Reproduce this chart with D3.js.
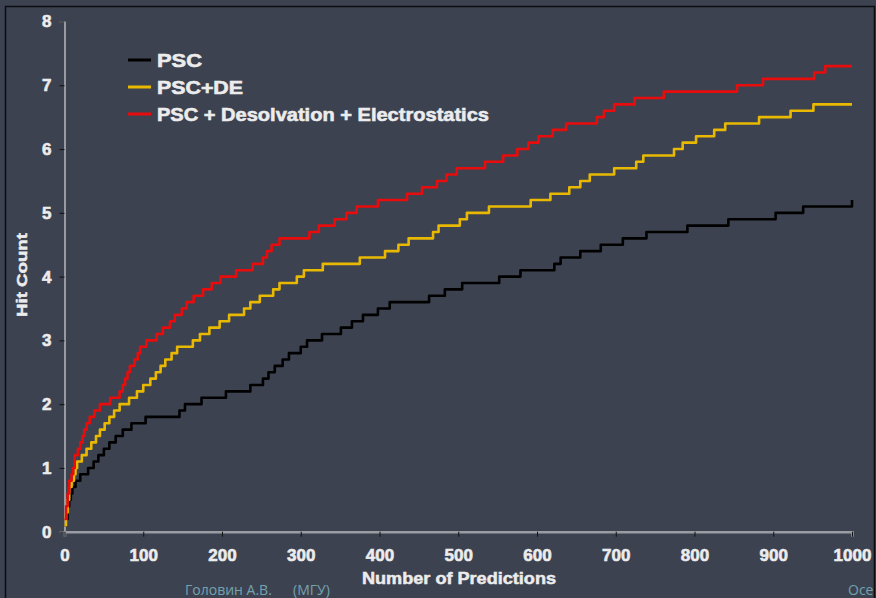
<!DOCTYPE html>
<html lang="en">
<head>
<meta charset="UTF-8">
<script src="https://d3js.org/d3.v7.min.js"></script>
<title>Hit Count</title>
<style>
  html, body { margin: 0; padding: 0; background: #3d4251; }
  svg { display: block; }
</style>
</head>
<body>
<div id="chart"></div>
<script>
// step data: x where the hit count changes, and the new value
var pscX  = [0, 2, 4, 6, 8, 10, 14, 20, 30, 37, 43, 50, 57, 65, 74, 85, 103, 146, 153, 174, 205, 236, 252, 259, 267, 277, 285, 300, 308, 327, 351, 365, 379, 398, 413, 463, 483, 505, 552, 579, 622, 630, 655, 681, 709, 739, 791, 843, 903, 938, 1000];
var pscY  = [0.1, 0.2, 0.4, 0.5, 0.6, 0.7, 0.8, 0.9, 1.0, 1.1, 1.2, 1.3, 1.4, 1.5, 1.6, 1.7, 1.8, 1.9, 2.0, 2.1, 2.2, 2.3, 2.4, 2.5, 2.6, 2.7, 2.8, 2.9, 3.0, 3.1, 3.2, 3.3, 3.4, 3.5, 3.6, 3.7, 3.8, 3.9, 4.0, 4.1, 4.2, 4.3, 4.4, 4.5, 4.6, 4.7, 4.8, 4.9, 5.0, 5.1, 5.2];

var deX   = [0, 2, 4, 6, 9, 12, 14, 16, 22, 28, 34, 40, 45, 51, 57, 63, 70, 82, 92, 100, 109, 116, 122, 128, 136, 143, 163, 172, 184, 197, 209, 228, 236, 248, 265, 273, 295, 304, 328, 375, 407, 424, 437, 468, 475, 502, 511, 539, 592, 617, 641, 655, 667, 698, 726, 735, 774, 785, 802, 825, 839, 882, 922, 951, 1000];
var deY   = [0.1, 0.3, 0.5, 0.7, 0.8, 0.9, 1.0, 1.1, 1.2, 1.3, 1.4, 1.5, 1.6, 1.7, 1.8, 1.9, 2.0, 2.1, 2.2, 2.3, 2.4, 2.5, 2.6, 2.7, 2.8, 2.9, 3.0, 3.1, 3.2, 3.3, 3.4, 3.5, 3.6, 3.7, 3.8, 3.9, 4.0, 4.1, 4.2, 4.3, 4.4, 4.5, 4.6, 4.7, 4.8, 4.9, 5.0, 5.1, 5.2, 5.3, 5.4, 5.5, 5.6, 5.7, 5.8, 5.9, 6.0, 6.1, 6.2, 6.3, 6.4, 6.5, 6.6, 6.7, 6.7];

var desX  = [0, 2, 4, 6, 9, 11, 13, 17, 20, 23, 25, 28, 32, 38, 45, 58, 70, 74, 77, 80, 83, 89, 93, 96, 104, 117, 125, 134, 140, 149, 155, 164, 176, 187, 198, 218, 239, 252, 257, 263, 273, 311, 323, 343, 358, 371, 398, 435, 454, 473, 485, 498, 534, 557, 575, 589, 602, 620, 637, 676, 685, 698, 724, 761, 854, 887, 952, 966, 1000];
var desY  = [0.2, 0.4, 0.6, 0.8, 0.9, 1.0, 1.2, 1.3, 1.4, 1.5, 1.6, 1.7, 1.8, 1.9, 2.0, 2.1, 2.2, 2.3, 2.4, 2.5, 2.6, 2.7, 2.8, 2.9, 3.0, 3.1, 3.2, 3.3, 3.4, 3.5, 3.6, 3.7, 3.8, 3.9, 4.0, 4.1, 4.2, 4.3, 4.4, 4.5, 4.6, 4.7, 4.8, 4.9, 5.0, 5.1, 5.2, 5.3, 5.4, 5.5, 5.6, 5.7, 5.8, 5.9, 6.0, 6.1, 6.2, 6.3, 6.4, 6.5, 6.6, 6.7, 6.8, 6.9, 7.0, 7.1, 7.2, 7.3, 7.3];

var seriesNames = ["PSC", "PSC+DE", "PSC + Desolvation + Electrostatics"];
var seriesColors = ["#000000", "#e8b900", "#e80c0c"];
var xTicks = [0, 100, 200, 300, 400, 500, 600, 700, 800, 900, 1000];
var yTicks = [0, 1, 2, 3, 4, 5, 6, 7, 8];

var W = 876, H = 598;
var svg = d3.select("#chart").append("svg")
    .attr("width", W).attr("height", H);

svg.append("rect").attr("width", W).attr("height", H).attr("fill", "#3d4251");
// slide frame
svg.append("rect")
    .attr("x", 5.5).attr("y", 6.5).attr("width", 869).attr("height", 640)
    .attr("fill", "none").attr("stroke", "#0c0d10").attr("stroke-width", 1.5);

var x = d3.scaleLinear().domain([0, 1000]).range([64.5, 852]);
var y = d3.scaleLinear().domain([0, 8]).range([531.7, 21.5]);

var labelFont = "'Liberation Sans', Arial, sans-serif";

// y axis
var yAxis = svg.append("g")
    .attr("transform", "translate(" + x(0) + ",0)")
    .call(d3.axisLeft(y).tickValues(yTicks).tickSize(5).tickPadding(8).tickFormat(d3.format("d")));
yAxis.select(".domain").attr("stroke", "#d6d6d6").attr("stroke-width", 1.2);
yAxis.selectAll(".tick line").attr("stroke", "#111");
yAxis.selectAll(".tick text")
    .attr("fill", "#ececec").attr("stroke", "#ececec").attr("stroke-width", 0.6)
    .style("font-family", labelFont).style("font-weight", "bold").style("font-size", "17px");

// x axis
var xAxis = svg.append("g")
    .attr("transform", "translate(0," + y(0) + ")")
    .call(d3.axisBottom(x).tickValues(xTicks).tickSize(5).tickPadding(12).tickFormat(d3.format("d")));
xAxis.select(".domain").attr("stroke", "#9a9ca3").attr("stroke-width", 2.5);
xAxis.selectAll(".tick line").attr("stroke", "#111");
xAxis.selectAll(".tick text")
    .attr("fill", "#ececec").attr("stroke", "#ececec").attr("stroke-width", 0.6)
    .style("font-family", labelFont).style("font-weight", "bold").style("font-size", "17px");

// axis titles
svg.append("text")
    .attr("x", 459).attr("y", 584)
    .attr("text-anchor", "middle")
    .attr("textLength", 194).attr("lengthAdjust", "spacingAndGlyphs")
    .attr("fill", "#ececec").attr("stroke", "#ececec").attr("stroke-width", 0.5)
    .style("font-family", labelFont).style("font-weight", "bold").style("font-size", "16px")
    .text("Number of Predictions");

svg.append("text")
    .attr("transform", "translate(27,275) rotate(-90)")
    .attr("text-anchor", "middle")
    .attr("textLength", 84).attr("lengthAdjust", "spacingAndGlyphs")
    .attr("fill", "#ececec").attr("stroke", "#ececec").attr("stroke-width", 0.5)
    .style("font-family", labelFont).style("font-weight", "bold").style("font-size", "15px")
    .text("Hit Count");

// curves
var line = d3.line()
    .x(function (d) { return x(d[0]); })
    .y(function (d) { return y(d[1]); })
    .curve(d3.curveStepAfter);

var allSeries = [
  d3.zip(pscX, pscY),
  d3.zip(deX, deY),
  d3.zip(desX, desY)
];

svg.append("g").selectAll("path")
  .data(allSeries)
  .enter()
  .append("path")
    .attr("d", line)
    .attr("fill", "none")
    .attr("stroke", function (d, i) { return seriesColors[i]; })
    .attr("stroke-width", 2.6)
    .attr("stroke-linejoin", "round");

// legend
var legendW = [45, 86, 332];
var legend = svg.append("g");
seriesNames.forEach(function (name, i) {
  var ly = 60 + i * 27;
  legend.append("line")
      .attr("x1", 128).attr("x2", 151).attr("y1", ly).attr("y2", ly)
      .attr("stroke", seriesColors[i]).attr("stroke-width", 3);
  legend.append("text")
      .attr("x", 157).attr("y", ly + 7)
      .attr("textLength", legendW[i]).attr("lengthAdjust", "spacingAndGlyphs")
      .attr("fill", "#ececec").attr("stroke", "#ececec").attr("stroke-width", 0.6)
      .style("font-family", labelFont).style("font-weight", "bold").style("font-size", "19px")
      .text(name);
});

// slide footer along the bottom edge
var footFont = "'Open Sans', 'Noto Sans', sans-serif";
svg.append("text").attr("x", 185).attr("y", 595)
    .attr("fill", "#72a3ae").style("font-family", footFont).style("font-size", "14px")
    .text("Головин А.В.");
svg.append("text").attr("x", 293).attr("y", 595)
    .attr("fill", "#72a3ae").style("font-family", footFont).style("font-size", "14px")
    .text("(МГУ)");
svg.append("text").attr("x", 848).attr("y", 595)
    .attr("fill", "#72a3ae").style("font-family", footFont).style("font-size", "14px")
    .text("Осе");
</script>
</body>
</html>
